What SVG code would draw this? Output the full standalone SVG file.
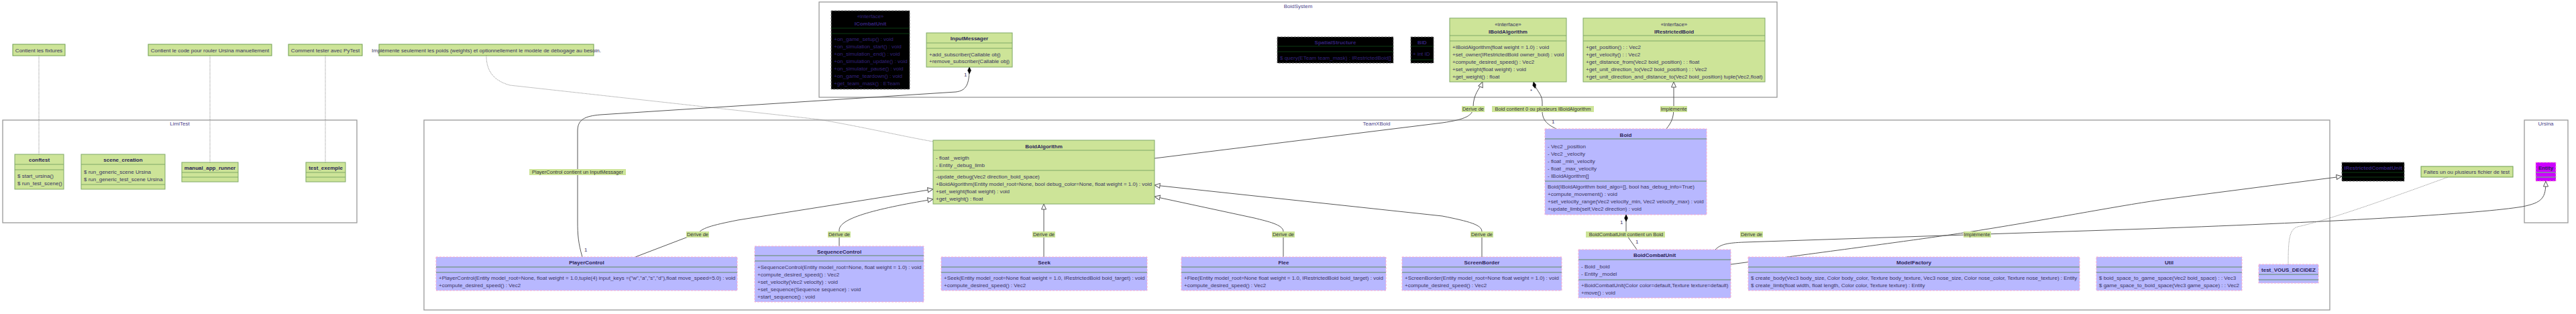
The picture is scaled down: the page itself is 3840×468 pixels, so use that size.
<svg xmlns="http://www.w3.org/2000/svg" width="3840" height="468" viewBox="0 0 3840 468">
<style>
text{font-family:"Liberation Sans",Arial,sans-serif;font-size:8px;fill:#3a3560}
.tb{font-weight:bold;text-anchor:middle;fill:#2b2456}
.tc{text-anchor:middle}
.kt{fill:#33227a}
.pkg{fill:#fff;stroke:#999;stroke-width:1.3}
.pkgl{text-anchor:middle;fill:#4a3f8a}
.g{fill:#cde498;stroke:#7fa866;stroke-width:1}
.gl{stroke:#7fa866;stroke-width:1}
.p{fill:#b8b8ff;stroke:#ffaacc;stroke-width:1;stroke-dasharray:3 2}
.pl{stroke:#7d9a96;stroke-width:1.5}
.k{fill:#000;stroke:#777;stroke-width:1;stroke-dasharray:3 2}
.kl{stroke:#0d3d12;stroke-width:1}
.m{fill:#cc00ff;stroke:#ffaacc;stroke-width:1;stroke-dasharray:3 2}
.note{fill:#cde498;stroke:#6e9e4e;stroke-width:1}
.c{fill:none;stroke:#555;stroke-width:1}
.d{fill:none;stroke:#888;stroke-width:1;stroke-dasharray:1 1}
.lb{fill:#cde498}
.lt{text-anchor:middle;fill:#333;font-size:7.5px}
</style>
<defs>
<marker id="tri" markerUnits="userSpaceOnUse" markerWidth="12" markerHeight="10" refX="9" refY="4" orient="auto"><path d="M1,0.5 L9,4 L1,7.5 Z" fill="#fff" stroke="#555" stroke-width="1"/></marker>
<marker id="dia" markerUnits="userSpaceOnUse" markerWidth="12" markerHeight="8" refX="11" refY="4" orient="auto"><path d="M1,4 L6,1.5 L11,4 L6,6.5 Z" fill="#000" stroke="#000" stroke-width="0.5"/></marker>
</defs>
<rect width="3840" height="468" fill="#fff"/>

<g id="packages">
<g id="pkg-LimiTest"><rect class="pkg" x="4" y="179" width="528" height="153"/><text class="pkgl" x="268" y="187">LimiTest</text></g>
<g id="pkg-BoidSystem"><rect class="pkg" x="1221" y="3" width="1428" height="142"/><text class="pkgl" x="1935" y="12">BoidSystem</text></g>
<g id="pkg-TeamXBoid"><rect class="pkg" x="632" y="179" width="2841" height="283"/><text class="pkgl" x="2052" y="187">TeamXBoid</text></g>
<g id="pkg-Ursina"><rect class="pkg" x="3763" y="179" width="65" height="153"/><text class="pkgl" x="3795" y="187">Ursina</text></g>
</g>

<g id="connectors">
<path class="d" d="M58 83 V230"/>
<path class="d" d="M313 83 V242"/>
<path class="d" d="M485 83 V242"/>
<path class="d" d="M725 83 C725 105 735 120 760 127 L1221 178 C1290 190 1350 204 1391 211"/>
<path class="c" marker-end="url(#dia)" d="M868 383 C862 362 861 350 861 330 L861 195 C861 178 872 173 895 171 L1425 137 C1441 135 1445 125 1445 100"/>
<path class="c" marker-end="url(#tri)" d="M947 383 L1023 354 L1040 349 C1045 340 1060 336 1100 328 L1391 282"/>
<path class="c" marker-end="url(#tri)" d="M1251 367 L1251 343 C1251 326 1300 312 1391 297"/>
<path class="c" marker-end="url(#tri)" d="M1556 383 L1556 304"/>
<path class="c" marker-end="url(#tri)" d="M1913 383 L1913 345 C1913 335 1890 330 1870 325 L1721 293"/>
<path class="c" marker-end="url(#tri)" d="M2209 383 L2209 345 C2209 335 2190 330 2150 322 L1721 276"/>
<path class="c" marker-end="url(#tri)" d="M1721 236 L2150 183 C2185 178 2196 172 2196 160 C2196 140 2206 132 2210 122"/>
<path class="c" marker-end="url(#dia)" d="M2320 192 C2305 185 2299 178 2299 165 L2299 152 C2299 140 2289 134 2286 122"/>
<path class="c" marker-end="url(#tri)" d="M2484 192 C2492 182 2495 175 2495 160 L2495 122"/>
<path class="c" marker-end="url(#dia)" d="M2440 372 L2428 355 L2424 345 L2424 320"/>
<path class="c" marker-end="url(#tri)" d="M2557 372 C2565 364 2575 362 2600 361 L3200 341 C3500 330 3700 318 3760 308 C3790 302 3795 295 3795 270"/>
<path class="c" marker-end="url(#tri)" d="M2580 394 L2672 382 C2800 365 2880 354 2927 347 C3050 328 3150 308 3220 298 L3491 263"/>
<path class="d" d="M3649 264 C3550 300 3470 328 3425 338 C3413 342 3411 355 3411 394"/>
<g id="connector-labels">
<rect class="lb" x="789" y="252" width="144" height="9"/><text class="lt" x="861" y="259">PlayerControl contient un InputMessager</text>
<text x="871" y="375" font-size="6">1</text>
<text x="1437" y="114" font-size="6">1</text>
<rect class="lb" x="1023" y="345" width="34" height="9"/><text class="lt" x="1040" y="352">Dérive de</text>
<rect class="lb" x="1234" y="345" width="34" height="9"/><text class="lt" x="1251" y="352">Dérive de</text>
<rect class="lb" x="1539" y="345" width="34" height="9"/><text class="lt" x="1556" y="352">Dérive de</text>
<rect class="lb" x="1896" y="345" width="34" height="9"/><text class="lt" x="1913" y="352">Dérive de</text>
<rect class="lb" x="2192" y="345" width="34" height="9"/><text class="lt" x="2209" y="352">Dérive de</text>
<rect class="lb" x="2179" y="158" width="34" height="9"/><text class="lt" x="2196" y="165">Dérive de</text>
<rect class="lb" x="2224" y="158" width="152" height="9"/><text class="lt" x="2300" y="165">Boid contient 0 ou plusieurs IBoidAlgorithm</text>
<text x="2281" y="138" font-size="6">*</text>
<text x="2313" y="184" font-size="6">1</text>
<rect class="lb" x="2475" y="158" width="40" height="9"/><text class="lt" x="2495" y="165">Implémente</text>
<rect class="lb" x="2364" y="345" width="118" height="9"/><text class="lt" x="2424" y="352">BoidCombatUnit contient un Boid</text>
<text x="2415" y="334" font-size="6">1</text>
<text x="2438" y="363" font-size="6">1</text>
<rect class="lb" x="2594" y="345" width="34" height="9"/><text class="lt" x="2611" y="352">Dérive de</text>
<rect class="lb" x="2927" y="345" width="41" height="9"/><text class="lt" x="2947" y="352">Implémente</text>
</g>
</g>

<g id="notes">
<g id="note-fixtures"><rect class="note" x="19" y="66" width="78" height="17"/><text x="58" y="77.5" class="tc">Contient les fixtures</text></g>
<g id="note-manual"><rect class="note" x="221" y="66" width="184" height="17"/><text x="313" y="77.5" class="tc">Contient le code pour rouler Ursina manuellement</text></g>
<g id="note-pytest"><rect class="note" x="430" y="66" width="110" height="17"/><text x="485" y="77.5" class="tc">Comment tester avec PyTest</text></g>
<g id="note-weights"><rect class="note" x="565" y="66" width="320" height="17"/><text x="725" y="77.5" class="tc">Implémente seulement les poids (weights) et optionnellement le modèle de débogage au besoin.</text></g>
<g id="note-tests"><rect class="note" x="3609" y="248" width="137" height="16"/><text x="3677" y="259" class="tc">Faites un ou plusieurs fichier de test</text></g>
</g>

<g id="conftest"><rect class="g" x="22" y="230" width="73" height="52"/><text class="tb" x="58.5" y="241">conftest</text><line class="gl" x1="22" y1="245" x2="95" y2="245"/><line class="gl" x1="22" y1="253" x2="95" y2="253"/><text x="26" y="265">$ start_ursina()</text><text x="26" y="276">$ run_test_scene()</text></g>
<g id="scene_creation"><rect class="g" x="121" y="230" width="125" height="52"/><text class="tb" x="183.5" y="241">scene_creation</text><line class="gl" x1="121" y1="245" x2="246" y2="245"/><text x="125" y="259">$ run_generic_scene Ursina</text><text x="125" y="270">$ run_generic_test_scene Ursina</text><line class="gl" x1="121" y1="275" x2="246" y2="275"/></g>
<g id="manual_app_runner"><rect class="g" x="271" y="242" width="84" height="29"/><text class="tb" x="313" y="253">manual_app_runner</text><line class="gl" x1="271" y1="257" x2="355" y2="257"/><line class="gl" x1="271" y1="264" x2="355" y2="264"/></g>
<g id="test_exemple"><rect class="g" x="456" y="242" width="59" height="29"/><text class="tb" x="485.5" y="253">test_exemple</text><line class="gl" x1="456" y1="257" x2="515" y2="257"/><line class="gl" x1="456" y1="264" x2="515" y2="264"/></g>

<g id="ICombatUnit"><rect class="k" x="1239" y="16" width="117" height="117"/><text class="tc kt" x="1297.5" y="27">«interface»</text><text class="tb kt" x="1297.5" y="38">ICombatUnit</text><line class="kl" x1="1239" y1="42" x2="1356" y2="42"/><line class="kl" x1="1239" y1="50" x2="1356" y2="50"/>
<text class="kt" x="1243" y="61">+on_game_setup() : void</text><text class="kt" x="1243" y="72">+on_simulation_start() : void</text><text class="kt" x="1243" y="83">+on_simulation_end() : void</text><text class="kt" x="1243" y="94">+on_simulation_update() : void</text><text class="kt" x="1243" y="105">+on_simulator_pause() : void</text><text class="kt" x="1243" y="116">+on_game_teardown() : void</text><text class="kt" x="1243" y="127">+get_team_mask() : ETeam</text></g>
<g id="InputMessager"><rect class="g" x="1381" y="49" width="128" height="51"/><text class="tb" x="1445" y="60">InputMessager</text><line class="gl" x1="1381" y1="64" x2="1509" y2="64"/><line class="gl" x1="1381" y1="72" x2="1509" y2="72"/><text x="1385" y="84">+add_subscriber(Callable obj)</text><text x="1385" y="94">+remove_subscriber(Callable obj)</text></g>
<g id="SpatialStructure"><rect class="k" x="1904" y="55" width="173" height="39"/><text class="tb kt" x="1990.5" y="66">SpatialStructure</text><line class="kl" x1="1904" y1="69" x2="2077" y2="69"/><line class="kl" x1="1904" y1="77" x2="2077" y2="77"/><text class="kt" x="1908" y="89">$ query(ETeam team_mask) : IRestrictedBoid[]</text></g>
<g id="BID"><rect class="k" x="2103" y="55" width="34" height="39"/><text class="tb kt" x="2120" y="66">BID</text><line class="kl" x1="2103" y1="69" x2="2137" y2="69"/><text class="kt" x="2106" y="83">+ int ID</text><line class="kl" x1="2103" y1="89" x2="2137" y2="89"/></g>
<g id="IBoidAlgorithm"><rect class="g" x="2161" y="27" width="174" height="95"/><text class="tc" x="2248" y="39">«interface»</text><text class="tb" x="2248" y="50">IBoidAlgorithm</text><line class="gl" x1="2161" y1="53" x2="2335" y2="53"/><line class="gl" x1="2161" y1="61" x2="2335" y2="61"/>
<text x="2165" y="73">+IBoidAlgorithm(float weight = 1.0) : void</text><text x="2165" y="84">+set_owner(IRestrictedBoid owner_boid) : void</text><text x="2165" y="95">+compute_desired_speed() : Vec2</text><text x="2165" y="106">+set_weight(float weight) : void</text><text x="2165" y="117">+get_weight() : float</text></g>
<g id="IRestrictedBoid"><rect class="g" x="2360" y="27" width="271" height="95"/><text class="tc" x="2495.5" y="39">«interface»</text><text class="tb" x="2495.5" y="50">IRestrictedBoid</text><line class="gl" x1="2360" y1="53" x2="2631" y2="53"/><line class="gl" x1="2360" y1="61" x2="2631" y2="61"/>
<text x="2364" y="73">+get_position() : : Vec2</text><text x="2364" y="84">+get_velocity() : : Vec2</text><text x="2364" y="95">+get_distance_from(Vec2 boid_position) : : float</text><text x="2364" y="106">+get_unit_direction_to(Vec2 boid_position) : : Vec2</text><text x="2364" y="117">+get_unit_direction_and_distance_to(Vec2 boid_position) tuple(Vec2,float)</text></g>

<g id="BoidAlgorithm"><rect class="g" x="1391" y="209" width="330" height="95"/><text class="tb" x="1556" y="221">BoidAlgorithm</text><line class="gl" x1="1391" y1="224" x2="1721" y2="224"/><text x="1395" y="238">- float _weigth</text><text x="1395" y="249">- Entity _debug_limb</text><line class="gl" x1="1391" y1="254" x2="1721" y2="254"/>
<text x="1395" y="266">-update_debug(Vec2 direction_boid_space)</text><text x="1395" y="277">+BoidAlgorithm(Entity model_root=None, bool debug_color=None, float weight = 1.0) : void</text><text x="1395" y="288">+set_weight(float weight) : void</text><text x="1395" y="299">+get_weight() : float</text></g>
<g id="Boid"><rect class="p" x="2303" y="192" width="241" height="128"/><text class="tb" x="2423.5" y="204">Boid</text><line class="pl" x1="2303" y1="207" x2="2544" y2="207"/>
<text x="2307" y="221">- Vec2 _position</text><text x="2307" y="232">- Vec2 _velocity</text><text x="2307" y="243">- float _min_velocity</text><text x="2307" y="254">- float _max_velocity</text><text x="2307" y="265">- IBoidAlgorithm[]</text><line class="pl" x1="2303" y1="270" x2="2544" y2="270"/>
<text x="2307" y="281">Boid(IBoidAlgorithm boid_algo=[], bool has_debug_info=True)</text><text x="2307" y="292">+compute_movement() : void</text><text x="2307" y="303">+set_velocity_range(Vec2 velocity_min, Vec2 velocity_max) : void</text><text x="2307" y="314">+update_limb(self,Vec2 direction) : void</text></g>
<g id="PlayerControl"><rect class="p" x="650" y="383" width="449" height="50"/><text class="tb" x="874.5" y="394">PlayerControl</text><line class="pl" x1="650" y1="398" x2="1099" y2="398"/><line class="pl" x1="650" y1="406" x2="1099" y2="406"/>
<text x="654" y="417">+PlayerControl(Entity model_root=None, float weight = 1.0,tuple(4) input_keys =("w","a","s","d"),float move_speed=5.0) : void</text><text x="654" y="428">+compute_desired_speed() : Vec2</text></g>
<g id="SequenceControl"><rect class="p" x="1125" y="367" width="252" height="83"/><text class="tb" x="1251" y="378">SequenceControl</text><line class="pl" x1="1125" y1="381" x2="1377" y2="381"/><line class="pl" x1="1125" y1="389" x2="1377" y2="389"/>
<text x="1129" y="401">+SequenceControl(Entity model_root=None, float weight = 1.0) : void</text><text x="1129" y="412">+compute_desired_speed() : Vec2</text><text x="1129" y="423">+set_velocity(Vec2 velocity) : void</text><text x="1129" y="434">+set_sequence(Sequence sequence) : void</text><text x="1129" y="445">+start_sequence() : void</text></g>
<g id="Seek"><rect class="p" x="1403" y="383" width="307" height="50"/><text class="tb" x="1556.5" y="394">Seek</text><line class="pl" x1="1403" y1="398" x2="1710" y2="398"/><line class="pl" x1="1403" y1="406" x2="1710" y2="406"/>
<text x="1407" y="417">+Seek(Entity model_root=None float weight = 1.0, IRestrictedBoid boid_target) : void</text><text x="1407" y="428">+compute_desired_speed() : Vec2</text></g>
<g id="Flee"><rect class="p" x="1761" y="383" width="305" height="50"/><text class="tb" x="1913.5" y="394">Flee</text><line class="pl" x1="1761" y1="398" x2="2066" y2="398"/><line class="pl" x1="1761" y1="406" x2="2066" y2="406"/>
<text x="1765" y="417">+Flee(Entity model_root=None float weight = 1.0, IRestrictedBoid boid_target) : void</text><text x="1765" y="428">+compute_desired_speed() : Vec2</text></g>
<g id="ScreenBorder"><rect class="p" x="2090" y="383" width="238" height="50"/><text class="tb" x="2209" y="394">ScreenBorder</text><line class="pl" x1="2090" y1="398" x2="2328" y2="398"/><line class="pl" x1="2090" y1="406" x2="2328" y2="406"/>
<text x="2094" y="417">+ScreenBorder(Entity model_root=None float weight = 1.0) : void</text><text x="2094" y="428">+compute_desired_speed() : Vec2</text></g>
<g id="BoidCombatUnit"><rect class="p" x="2353" y="372" width="227" height="72"/><text class="tb" x="2466.5" y="383">BoidCombatUnit</text><line class="pl" x1="2353" y1="387" x2="2580" y2="387"/>
<text x="2357" y="400">- Boid _boid</text><text x="2357" y="411">- Entity _model</text><line class="pl" x1="2353" y1="417" x2="2580" y2="417"/>
<text x="2357" y="428">+BoidCombatUnit(Color color=default,Texture texture=default)</text><text x="2357" y="439">+move() : void</text></g>
<g id="ModelFactory"><rect class="p" x="2606" y="383" width="494" height="50"/><text class="tb" x="2853" y="394">ModelFactory</text><line class="pl" x1="2606" y1="398" x2="3100" y2="398"/><line class="pl" x1="2606" y1="406" x2="3100" y2="406"/>
<text x="2610" y="417">$ create_body(Vec3 body_size, Color body_color, Texture body_texture, Vec3 nose_size, Color nose_color, Texture nose_texture) : Entity</text><text x="2610" y="428">$ create_limb(float width, float length, Color color, Texture texture) : Entity</text></g>
<g id="Util"><rect class="p" x="3125" y="383" width="217" height="50"/><text class="tb" x="3233.5" y="394">Util</text><line class="pl" x1="3125" y1="398" x2="3342" y2="398"/><line class="pl" x1="3125" y1="406" x2="3342" y2="406"/>
<text x="3129" y="417">$ boid_space_to_game_space(Vec2 boid_space) : : Vec3</text><text x="3129" y="428">$ game_space_to_boid_space(Vec3 game_space) : : Vec2</text></g>
<g id="test_VOUS_DECIDEZ"><rect class="p" x="3367" y="394" width="89" height="28"/><text class="tb" x="3411.5" y="405">test_VOUS_DECIDEZ</text><line class="pl" x1="3367" y1="409" x2="3456" y2="409"/><line class="pl" x1="3367" y1="417" x2="3456" y2="417"/></g>
<g id="IRestrictedCombatUnit"><rect class="k" x="3491" y="242" width="93" height="28"/><text class="tb kt" x="3537.5" y="253">IRestrictedCombatUnit</text><line class="kl" x1="3491" y1="257" x2="3584" y2="257"/><line class="kl" x1="3491" y1="264" x2="3584" y2="264"/></g>
<g id="Entity"><rect class="m" x="3780" y="242" width="30" height="28"/><text class="tb" x="3795" y="253">Entity</text><line class="pl" x1="3780" y1="257" x2="3810" y2="257"/><line class="pl" x1="3780" y1="264" x2="3810" y2="264"/></g>
</svg>
